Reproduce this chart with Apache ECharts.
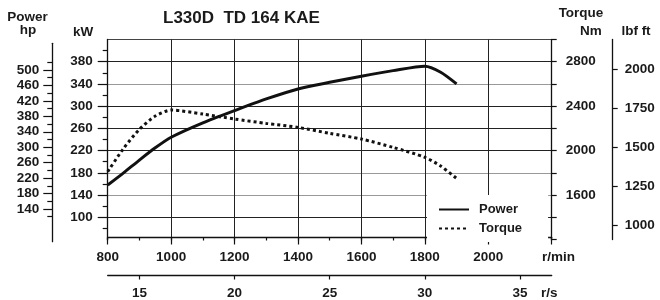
<!DOCTYPE html>
<html>
<head>
<meta charset="utf-8">
<title>L330D TD 164 KAE</title>
<script src="https://cdn.jsdelivr.net/npm/echarts@6/dist/echarts.min.js"></script>
<style>
    html, body { margin: 0; padding: 0; background: #fff; }
    #chart { width: 660px; height: 300px; }
</style>
</head>
<body>
<div id="chart"></div>
<script>
'use strict';

// engine speed, r/min
var rpm = [800, 850, 900, 950, 1000, 1100, 1200, 1300, 1400, 1500, 1600, 1700, 1800, 1850, 1900];
// power, kW
var powerKw = [158, 180, 203, 225, 244, 270, 292, 313, 331, 343, 354, 364, 372, 361, 340];
// torque, Nm
var torqueNm = [1810, 2020, 2191, 2311, 2365, 2329, 2284, 2245, 2209, 2155, 2104, 2029, 1940, 1861, 1750];

// tick labels
var rpmLabels = [800, 1000, 1200, 1400, 1600, 1800, 2000];
var rpsLabels = [15, 20, 25, 30, 35];
var kwLabels = [100, 140, 180, 220, 260, 300, 340, 380];
var kwMinorTicks = [80, 120, 160, 200, 240, 280, 320, 360, 400];
var hpLabels = [140, 180, 220, 260, 300, 340, 380, 420, 460, 500];
var hpMinorTicks = [120, 160, 200, 240, 280, 320, 360, 400, 440, 480, 520];
var nmLabels = [1600, 2000, 2400, 2800];
var lbfLabels = [1000, 1250, 1500, 1750, 2000];

var TXT = '#1a1a1a';
var FONT = 'Liberation Sans';
var labelStyle = {
    color: TXT, fontFamily: FONT, fontWeight: 'bold', fontSize: 13.5,
    formatter: function (v) { return String(v); }
};

function pairs(xs, ys) {
    var out = [];
    for (var i = 0; i < xs.length; i++) {
        out.push([xs[i], ys[i]]);
    }
    return out;
}

function nameText(text, x, y, align) {
    return {
        type: 'text', x: x, y: y, silent: true,
        style: {
            text: text, align: align || 'center', verticalAlign: 'middle',
            font: 'bold 13.5px "' + FONT + '"', fill: TXT
        }
    };
}

var axisLine = { show: true, lineStyle: { color: '#111', width: 1.3 } };
var tickStyle = { color: '#111', width: 1.2 };

var chart = echarts.init(document.getElementById('chart'), null, { renderer: 'canvas' });

chart.setOption({
    animation: false,
    backgroundColor: '#fff',
    title: {
        text: 'L330D  TD 164 KAE',
        left: 163, top: 10, padding: 0,
        textStyle: { color: TXT, fontFamily: FONT, fontWeight: 'bold', fontSize: 17 }
    },
    legend: {
        data: ['Power', 'Torque'],
        orient: 'vertical',
        left: 427, top: 195,
        padding: [8, 26, 7, 11],
        itemWidth: 30, itemHeight: 10, itemGap: 6,
        backgroundColor: '#fff',
        itemStyle: { opacity: 0 },
        textStyle: { color: TXT, fontFamily: FONT, fontWeight: 'bold', fontSize: 13, padding: [0, 0, 0, 5] }
    },
    grid: [
        { left: 107.7, right: 108.3, top: 39.5, height: 200, outerBoundsMode: 'none' },  // main plot
        { left: 52.3, width: 20, top: 43.3, height: 198.4, outerBoundsMode: 'none' },    // hp scale
        { left: 107.7, right: 108.3, top: 265, height: 10.5, outerBoundsMode: 'none' }   // r/s scale
    ],
    xAxis: [
        {   // minor ticks every 100 r/min
            type: 'value', gridIndex: 0, position: 'bottom', min: 800, max: 2200, interval: 100, offset: -2,
            axisLine: { show: false },
            axisTick: { show: true, length: 3, lineStyle: tickStyle },
            axisLabel: { show: false },
            splitLine: { show: false }
        },
        {   // r/min, grid every 200
            type: 'value', gridIndex: 0, position: 'bottom', min: 800, max: 2200, interval: 200, offset: -2,
            axisLine: axisLine,
            axisTick: { show: true, length: 7, lineStyle: tickStyle },
            axisLabel: Object.assign({}, labelStyle, { margin: 13, customValues: rpmLabels }),
            splitLine: { show: true, lineStyle: { color: '#222', width: 1 } }
        },
        {   // r/s
            type: 'value', gridIndex: 2, position: 'bottom', min: 800 / 60, max: 2200 / 60,
            axisLine: axisLine,
            axisTick: { show: true, length: 4, customValues: rpsLabels, lineStyle: tickStyle },
            axisLabel: Object.assign({}, labelStyle, { margin: 11, customValues: rpsLabels }),
            splitLine: { show: false }
        },
        { type: 'value', gridIndex: 1, show: false }
    ],
    yAxis: [
        {   // kW, minor ticks
            type: 'value', gridIndex: 0, position: 'left', min: 60, max: 420, interval: 20,
            axisLine: axisLine,
            axisTick: { show: true, length: 5, customValues: kwMinorTicks, lineStyle: tickStyle },
            axisLabel: Object.assign({}, labelStyle, { margin: 15, customValues: kwLabels }),
            splitLine: { show: false }
        },
        {   // kW, major ticks
            type: 'value', gridIndex: 0, position: 'left', min: 60, max: 420,
            axisLine: { show: false },
            axisTick: { show: true, length: 10, customValues: kwLabels, lineStyle: tickStyle },
            axisLabel: { show: false },
            splitLine: { show: false }
        },
        {   // Nm
            type: 'value', gridIndex: 0, position: 'right', min: 1200, max: 3000, interval: 200,
            axisLine: axisLine,
            axisTick: { show: true, length: 5, lineStyle: tickStyle },
            axisLabel: Object.assign({}, labelStyle, { margin: 14, customValues: nmLabels }),
            splitLine: {
                show: true,
                lineStyle: {
                    width: 1,
                    color: ['rgba(0,0,0,0)', '#222', '#999', '#999', '#222', '#222', '#222', '#999', '#222', '#444']
                }
            }
        },
        {   // lbf ft, second right-hand scale
            type: 'value', gridIndex: 0, position: 'right', offset: 61, min: 906.6, max: 2194.6,
            axisLine: axisLine,
            axisTick: { show: true, length: 5, customValues: lbfLabels, lineStyle: tickStyle },
            axisLabel: Object.assign({}, labelStyle, { margin: 12, customValues: lbfLabels }),
            splitLine: { show: false }
        },
        {   // hp, minor ticks
            type: 'value', gridIndex: 1, position: 'left', min: 55.2, max: 569.2,
            axisLine: axisLine,
            axisTick: { show: true, length: 5, customValues: hpMinorTicks, lineStyle: tickStyle },
            axisLabel: { show: false },
            splitLine: { show: false }
        },
        {   // hp, major ticks
            type: 'value', gridIndex: 1, position: 'left', min: 55.2, max: 569.2,
            axisLine: { show: false },
            axisTick: { show: true, length: 9, customValues: hpLabels, lineStyle: tickStyle },
            axisLabel: Object.assign({}, labelStyle, { margin: 13, customValues: hpLabels }),
            splitLine: { show: false }
        },
        { type: 'value', gridIndex: 2, show: false }
    ],
    graphic: [
        nameText('Power', 27.5, 17),
        nameText('hp', 28, 30.5),
        nameText('kW', 83, 32.5),
        nameText('Torque', 581, 13),
        nameText('Nm', 591, 31),
        nameText('lbf ft', 636, 31),
        nameText('r/min', 542, 257.5, 'left'),
        nameText('r/s', 541, 293, 'left')
    ],
    series: [
        {
            name: 'Power', type: 'line', xAxisIndex: 1, yAxisIndex: 0,
            data: pairs(rpm, powerKw),
            symbol: 'none', smooth: 0.25,
            lineStyle: { color: '#111', width: 3 },
            itemStyle: { color: '#111' }
        },
        {
            name: 'Torque', type: 'line', xAxisIndex: 1, yAxisIndex: 2,
            data: pairs(rpm, torqueNm),
            symbol: 'none', smooth: 0.25,
            lineStyle: { color: '#111', width: 3, type: [3, 3] },
            itemStyle: { color: '#111' }
        }
    ]
});
</script>
</body>
</html>
